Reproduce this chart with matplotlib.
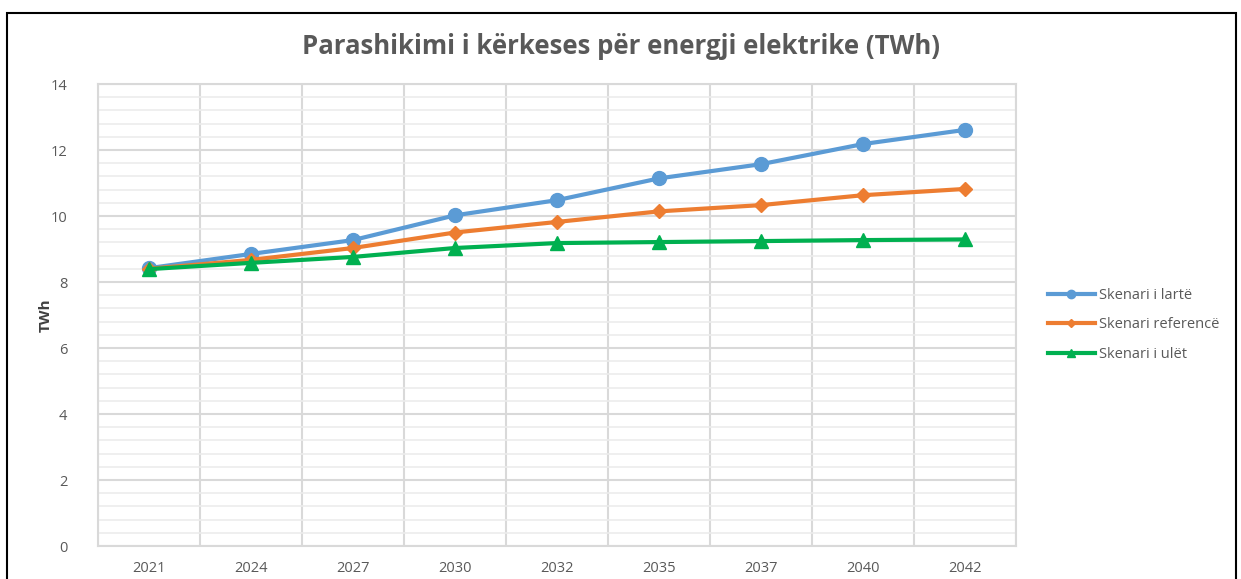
import numpy as np
import matplotlib.pyplot as plt
from matplotlib.ticker import MultipleLocator
from matplotlib.patches import Rectangle

years = ['2021', '2024', '2027', '2030', '2032', '2035', '2037', '2040', '2042']
high = [8.42, 8.85, 9.27, 10.02, 10.48, 11.14, 11.57, 12.18, 12.61]
ref = [8.40, 8.67, 9.03, 9.50, 9.82, 10.14, 10.33, 10.63, 10.82]
low = [8.39, 8.58, 8.76, 9.03, 9.18, 9.21, 9.24, 9.27, 9.29]
names = ['Skenari i lartë', 'Skenari referencë', 'Skenari i ulët']

plt.rcParams['font.family'] = ['Open Sans', 'DejaVu Sans']
grey = '#595959'

fig = plt.figure(figsize=(12.41, 5.79), dpi=100)
ax = fig.add_axes([98/1241, 1 - 546/579, (1016-98)/1241, (546-84)/579])

x = np.arange(len(years))
ax.plot(x, high, color='#5b9bd5', lw=3, marker='o', ms=10, label=names[0], zorder=3)
ax.plot(x, ref, color='#ed7d31', lw=3, marker='D', ms=7, label=names[1], zorder=3)
ax.plot(x, low, color='#00b050', lw=3, marker='^', ms=10, label=names[2], zorder=3)

ax.set_xlim(-0.5, len(years) - 0.5)
ax.set_ylim(0, 14)
ax.set_xticks(x)
ax.set_xticklabels(years)
ax.set_xticks(np.arange(-0.5, len(years)), minor=True)
ax.yaxis.set_major_locator(MultipleLocator(2))
ax.yaxis.set_minor_locator(MultipleLocator(0.4))
ax.grid(True, which='major', axis='y', color='#d9d9d9', lw=1.5)
ax.grid(True, which='minor', axis='y', color='#ececec', lw=1.2)
ax.grid(True, which='minor', axis='x', color='#d9d9d9', lw=1.5)
ax.tick_params(which='both', length=0, colors=grey, labelsize=10.5)
ax.tick_params(axis='x', pad=11)
ax.tick_params(axis='y', pad=22)
for s in ax.spines.values():
    s.set_color('#d9d9d9')
    s.set_linewidth(1.5)

fig.text(46/1241, 1 - 315/579, 'TWh', rotation=90, ha='center', va='center',
         fontsize=11, fontweight='bold', color='#404040')
fig.text(0.5, 1 - 46/579, 'Parashikimi i kërkeses për energji elektrike (TWh)',
         ha='center', va='center', fontsize=18.5, fontweight='bold', color=grey)

fig.legend(loc='center left', bbox_to_anchor=(1035/1241, 1 - 325/579), frameon=False,
           fontsize=10.5, handlelength=3.2, markerscale=0.6, labelspacing=1.0,
           handletextpad=0.3, labelcolor=grey)

fig.patches.append(Rectangle((7/1241, -0.1), (1236-7)/1241, 1.1 - 13/579,
                             transform=fig.transFigure, fill=False, ec='black', lw=1.5))

fig.savefig('out.png', dpi=100)
